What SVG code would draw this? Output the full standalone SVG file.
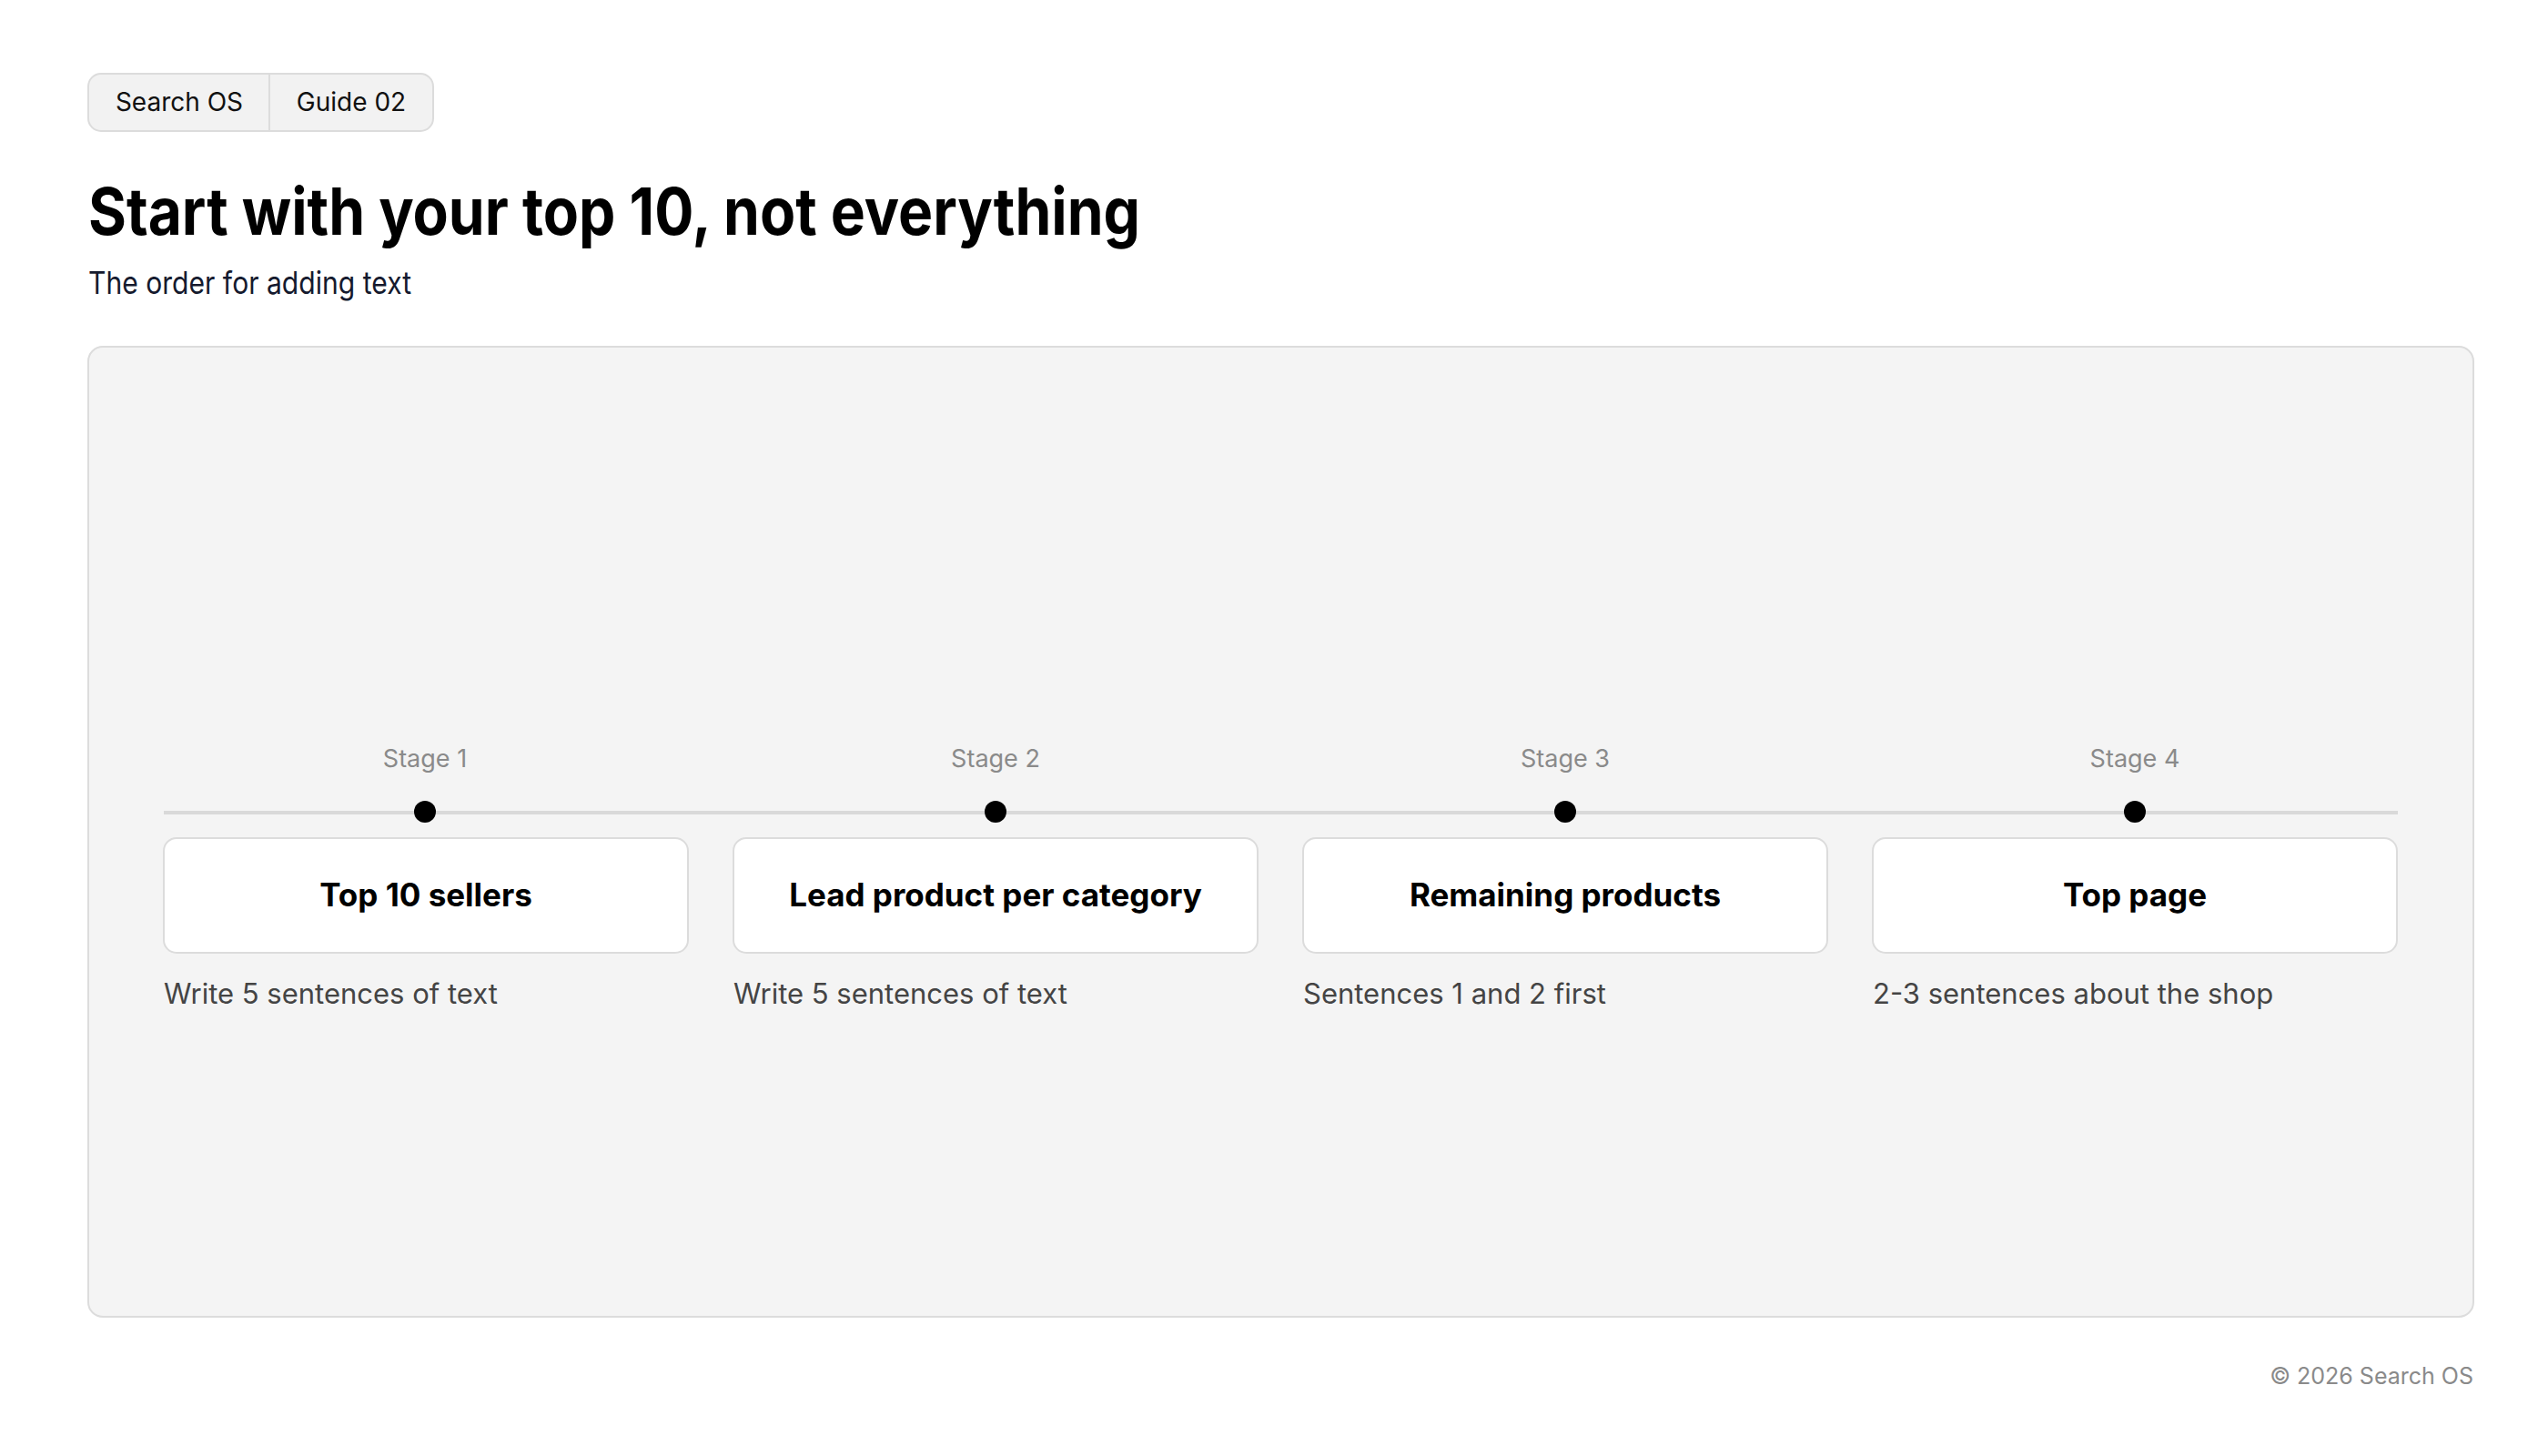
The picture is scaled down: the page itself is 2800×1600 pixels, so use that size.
<svg xmlns="http://www.w3.org/2000/svg" width="2800" height="1600" viewBox="0 0 2800 1600">
<style>
text{font-family:Inter,"Liberation Sans",sans-serif}
.stage{font-size:27px;fill:#8a8a8a;text-anchor:middle}
.card{fill:#fff;stroke:#dcdcdc;stroke-width:2}
.ct{font-size:35px;font-weight:700;fill:#000;text-anchor:middle}
.desc{font-size:31px;fill:#444}
.dot{fill:#000}
</style>
<rect width="2800" height="1600" fill="#fff"/>
<g id="pill">
<rect x="97" y="81" width="379" height="63" rx="14" fill="#f2f2f2" stroke="#dcdcdc" stroke-width="2"/>
<line x1="296" y1="81" x2="296" y2="144" stroke="#dcdcdc" stroke-width="2"/>
<text x="197" y="122" font-size="28" text-anchor="middle" fill="#111">Search OS</text>
<text x="386" y="122" font-size="28" text-anchor="middle" fill="#111">Guide 02</text>
</g>
<text x="97" y="258" font-size="72" font-weight="700" fill="#000" textLength="1156" lengthAdjust="spacingAndGlyphs">Start with your top 10, not everything</text>
<text x="97" y="323" font-size="34" fill="#151a2e" textLength="355" lengthAdjust="spacingAndGlyphs">The order for adding text</text>
<rect x="97" y="381" width="2621" height="1066" rx="16" fill="#f4f4f4" stroke="#dcdcdc" stroke-width="2"/>
<g id="connectors">
<line x1="180" y1="893" x2="2635" y2="893" stroke="#d9d9d9" stroke-width="4"/>
</g>
<g id="stage1">
<text class="stage" x="467" y="843">Stage 1</text>
<circle class="dot" cx="467" cy="892" r="12"/>
<rect class="card" x="180" y="921" width="576" height="126" rx="14"/>
<text class="ct" x="468" y="996">Top 10 sellers</text>
<text class="desc" x="180" y="1103">Write 5 sentences of text</text>
</g>
<g id="stage2">
<text class="stage" x="1094" y="843">Stage 2</text>
<circle class="dot" cx="1094" cy="892" r="12"/>
<rect class="card" x="806" y="921" width="576" height="126" rx="14"/>
<text class="ct" x="1094" y="996">Lead product per category</text>
<text class="desc" x="806" y="1103">Write 5 sentences of text</text>
</g>
<g id="stage3">
<text class="stage" x="1720" y="843">Stage 3</text>
<circle class="dot" cx="1720" cy="892" r="12"/>
<rect class="card" x="1432" y="921" width="576" height="126" rx="14"/>
<text class="ct" x="1720" y="996">Remaining products</text>
<text class="desc" x="1432" y="1103">Sentences 1 and 2 first</text>
</g>
<g id="stage4">
<text class="stage" x="2346" y="843">Stage 4</text>
<circle class="dot" cx="2346" cy="892" r="12"/>
<rect class="card" x="2058" y="921" width="576" height="126" rx="14"/>
<text class="ct" x="2346" y="996">Top page</text>
<text class="desc" x="2058" y="1103">2-3 sentences about the shop</text>
</g>
<text x="2718" y="1521" font-size="25" fill="#8a8a8a" text-anchor="end">© 2026 Search OS</text>
</svg>
